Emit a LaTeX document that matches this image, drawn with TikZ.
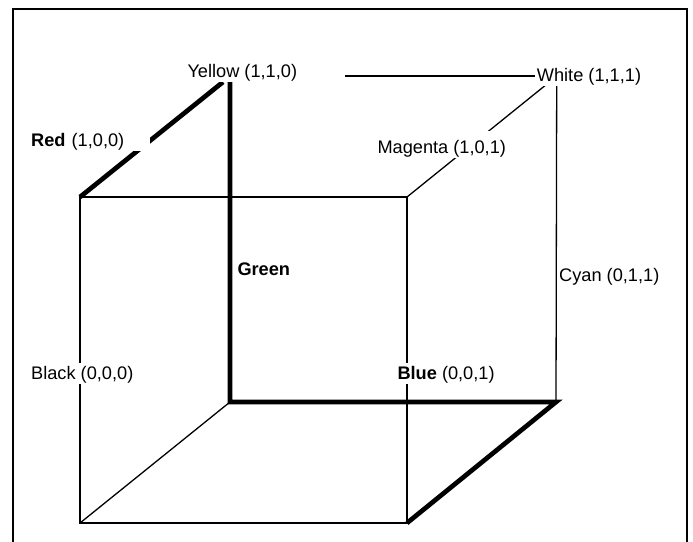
\documentclass[tikz,border=0pt]{standalone}
\usepackage{fontspec}
\setmainfont{Liberation Sans}
\begin{document}
\begin{tikzpicture}[x=1pt,y=-1pt,
  edgethin/.style={line width=1.3pt},
  edgethick/.style={line width=4.7pt},
  lbl/.style={fill=white, inner xsep=2pt, inner ysep=1.5pt, text height=15pt, text depth=3pt, anchor=base west, font=\fontsize{18.2}{20}\selectfont},
  plainlbl/.style={lbl, fill=none}]
\useasboundingbox (0,0) rectangle (693,541);
% frame
\draw[line width=2pt] (13.3,548) -- (13.3,9.3) -- (686.7,9.3) -- (686.7,548);
% corners
\coordinate (fTL) at (80,197);
\coordinate (fTR) at (407,197);
\coordinate (fBR) at (407,523);
\coordinate (fBL) at (80,523);
\coordinate (bBL) at (230,402);
\coordinate (bBR) at (556,402);
\coordinate (bTL) at (230,82);
\coordinate (rTop) at (223,82);
\coordinate (wDiag) at (547,84);
\coordinate (cTop) at (556.7,84);
\coordinate (topL) at (345,76);
\coordinate (topR) at (537,76);
% thin edges
\draw[edgethin] (fTL) -- (fTR) -- (fBR) -- (fBL) -- cycle;
\draw[edgethin] (fBL) -- (bBL);
\draw[edgethin] (fTR) -- (wDiag);
\draw[edgethin] (cTop) -- (bBR);
\draw[edgethin] (topL) -- (topR);
% thick edges
\draw[edgethick] (bTL) -- (bBL) -- (bBR) -- (fBR);
\draw[edgethick] (fTL) -- (rTop);
% labels
\node[lbl] (yellow) at (185.3,77.3) {Yellow (1,1,0)};
\node[lbl] (white) at (534.7,81.7) {White (1,1,1)};
\node[lbl, text height=21pt] (magenta) at (375.3,153.5) {Magenta (1,0,1)};
\node[lbl, text width=117pt, align=left] (red) at (29,146.7) {\textbf{Red} (1,0,0)};
\node[lbl] (black) at (29,379.7) {Black (0,0,0)};
\node[lbl] (blue) at (395.3,379.3) {\textbf{Blue} (0,0,1)};
\node[plainlbl] (cyan) at (557,281.7) {Cyan (0,1,1)};
\node[plainlbl] (green) at (235.3,275.7) {\textbf{Green}};
\end{tikzpicture}
\end{document}
